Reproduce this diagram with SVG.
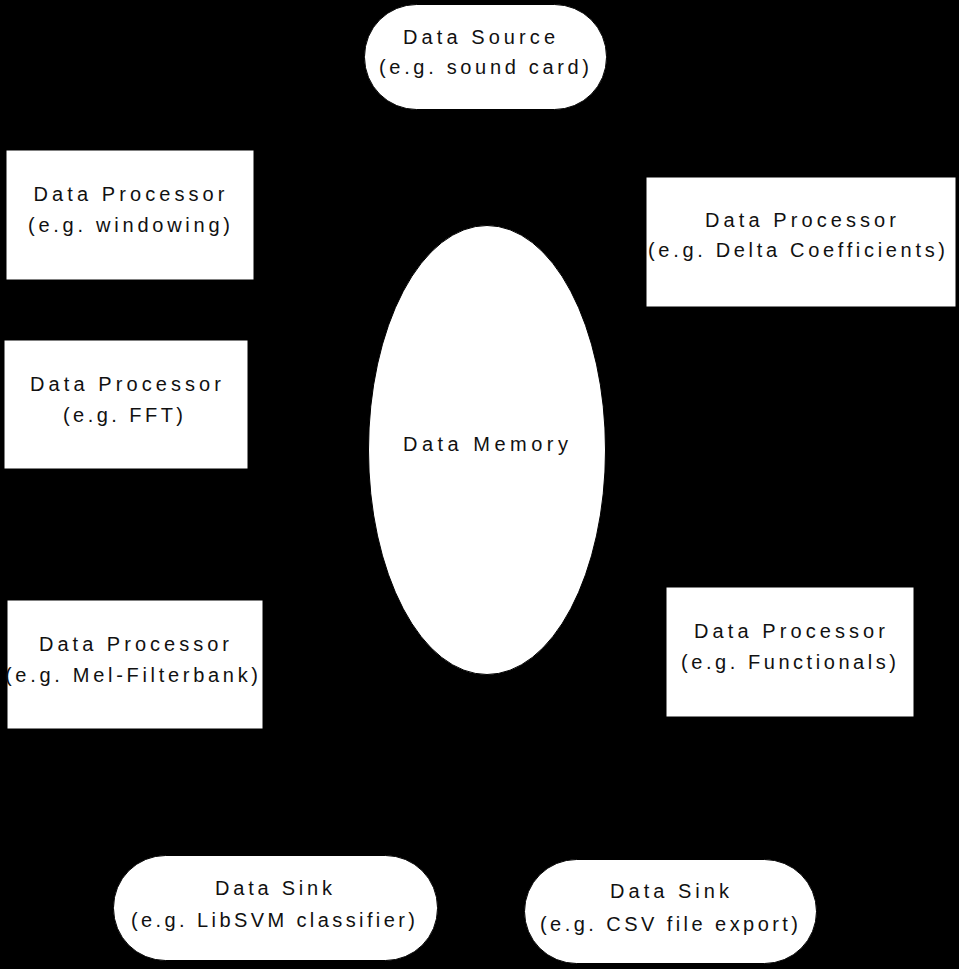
<svg xmlns="http://www.w3.org/2000/svg" width="959" height="969" viewBox="0 0 959 969">
<defs>
<style>
.bg{fill:#000}
.box{fill:#fff;stroke:#000;stroke-width:1}
.t{font-family:"Liberation Sans",Arial,sans-serif;font-size:20px;fill:#111}
.c{fill:none;stroke:#000;stroke-width:1.5}
</style>
<marker id="ah" viewBox="0 0 10 10" refX="10" refY="5" markerWidth="7" markerHeight="7" orient="auto"><path d="M0,1 L10,5 L0,9 z" fill="#000"/></marker>
</defs>
<rect class="bg" x="0" y="0" width="959" height="969"/>
<g id="connectors">
<line class="c" x1="485" y1="110" x2="485" y2="222" marker-end="url(#ah)"/>
<line class="c" x1="254" y1="230" x2="385" y2="330" marker-end="url(#ah)"/>
<line class="c" x1="248" y1="420" x2="369" y2="440" marker-end="url(#ah)"/>
<line class="c" x1="263" y1="660" x2="395" y2="590" marker-end="url(#ah)"/>
<line class="c" x1="645" y1="250" x2="580" y2="300" marker-end="url(#ah)"/>
<line class="c" x1="665" y1="650" x2="595" y2="610" marker-end="url(#ah)"/>
<line class="c" x1="420" y1="650" x2="300" y2="853" marker-end="url(#ah)"/>
<line class="c" x1="540" y1="660" x2="640" y2="857" marker-end="url(#ah)"/>
</g>
<g id="source">
<rect class="box" x="364.5" y="4.5" width="242" height="105" rx="52" ry="52"/>
<text class="t" x="403" y="43.5" textLength="152" lengthAdjust="spacing">Data Source</text>
<text class="t" x="379" y="74" textLength="210" lengthAdjust="spacing">(e.g. sound card)</text>
</g>
<g id="proc-windowing">
<rect class="box" x="6" y="150" width="248" height="130"/>
<text class="t" x="33.5" y="201" textLength="191" lengthAdjust="spacing">Data Processor</text>
<text class="t" x="28" y="232" textLength="202" lengthAdjust="spacing">(e.g. windowing)</text>
</g>
<g id="proc-fft">
<rect class="box" x="4" y="340" width="244" height="129"/>
<text class="t" x="30" y="391" textLength="191" lengthAdjust="spacing">Data Processor</text>
<text class="t" x="63" y="422" textLength="120" lengthAdjust="spacing">(e.g. FFT)</text>
</g>
<g id="proc-mel">
<rect class="box" x="7" y="600" width="256" height="129"/>
<text class="t" x="39" y="651" textLength="190" lengthAdjust="spacing">Data Processor</text>
<text class="t" x="5" y="682" textLength="253" lengthAdjust="spacing">(e.g. Mel-Filterbank)</text>
</g>
<g id="proc-delta">
<rect class="box" x="646" y="177" width="310" height="130"/>
<text class="t" x="705" y="227" textLength="191" lengthAdjust="spacing">Data Processor</text>
<text class="t" x="648" y="257" textLength="297" lengthAdjust="spacing">(e.g. Delta Coefficients)</text>
</g>
<g id="proc-functionals">
<rect class="box" x="666" y="587" width="248" height="130"/>
<text class="t" x="694" y="638" textLength="191" lengthAdjust="spacing">Data Processor</text>
<text class="t" x="681" y="669" textLength="215" lengthAdjust="spacing">(e.g. Functionals)</text>
</g>
<g id="memory">
<ellipse class="box" cx="487" cy="450" rx="118.5" ry="224.5"/>
<text class="t" x="403" y="451" textLength="165" lengthAdjust="spacing">Data Memory</text>
</g>
<g id="sink-libsvm">
<rect class="box" x="113.5" y="855.5" width="324" height="105" rx="52" ry="52"/>
<text class="t" x="215" y="895" textLength="117" lengthAdjust="spacing">Data Sink</text>
<text class="t" x="131" y="927" textLength="284" lengthAdjust="spacing">(e.g. LibSVM classifier)</text>
</g>
<g id="sink-csv">
<rect class="box" x="524.5" y="859.5" width="292" height="104" rx="52" ry="52"/>
<text class="t" x="610" y="898" textLength="119" lengthAdjust="spacing">Data Sink</text>
<text class="t" x="540" y="931" textLength="258" lengthAdjust="spacing">(e.g. CSV file export)</text>
</g>
</svg>
